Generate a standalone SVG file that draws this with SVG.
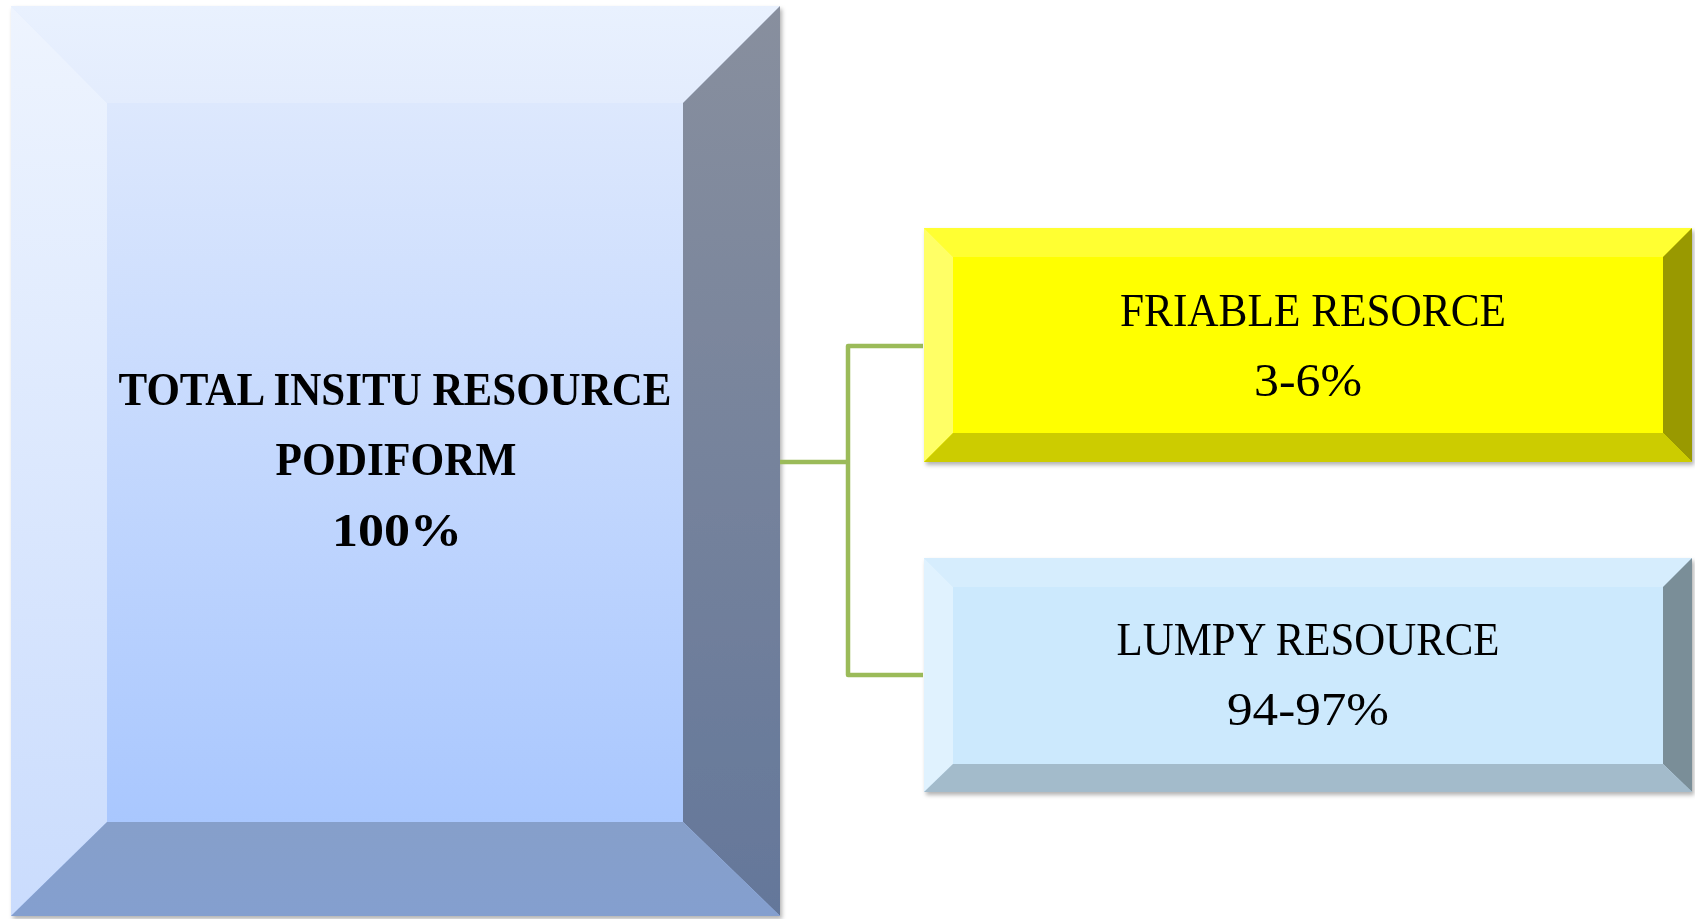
<svg xmlns="http://www.w3.org/2000/svg" width="1695" height="919" viewBox="0 0 1695 919">
<defs>
<filter id="sh" x="-5%" y="-5%" width="110%" height="110%">
<feDropShadow dx="2" dy="3" stdDeviation="2" flood-color="#000" flood-opacity="0.3"/>
</filter>
<linearGradient id="gIn" x1="0" y1="0" x2="0" y2="1"><stop offset="0" stop-color="#dde8fd"/><stop offset="1" stop-color="#a9c7fe"/></linearGradient>
<linearGradient id="gTop" x1="0" y1="0" x2="0" y2="1"><stop offset="0" stop-color="#e9f1fe"/><stop offset="1" stop-color="#e3ecfd"/></linearGradient>
<linearGradient id="gLeft" x1="0" y1="0" x2="0" y2="1"><stop offset="0" stop-color="#eef4fe"/><stop offset="1" stop-color="#cadcfd"/></linearGradient>
<linearGradient id="gRight" x1="0" y1="0" x2="0" y2="1"><stop offset="0" stop-color="#888f9e"/><stop offset="1" stop-color="#64779a"/></linearGradient>
<linearGradient id="gBot" x1="0" y1="0" x2="0" y2="1"><stop offset="0" stop-color="#869fca"/><stop offset="1" stop-color="#849fcf"/></linearGradient>
<style>
.bold{font-family:"Liberation Serif","Times New Roman",serif;font-weight:bold;font-size:47px;fill:#000;text-anchor:middle}
.reg{font-family:"Liberation Serif","Times New Roman",serif;font-size:46px;fill:#000;text-anchor:middle}
.conn{fill:none;stroke:#9bbb59;stroke-width:4.5;stroke-linejoin:round}
</style>
</defs>
<rect width="1695" height="919" fill="#fff"/>

<g id="total" filter="url(#sh)">
<rect x="11" y="6" width="769" height="910" fill="url(#gIn)"/>
<polygon points="11,6 780,6 683,103 107,103" fill="url(#gTop)"/>
<polygon points="11,6 107,103 107,822 11,916" fill="url(#gLeft)"/>
<polygon points="780,6 780,916 683,822 683,103" fill="url(#gRight)"/>
<polygon points="11,916 107,822 683,822 780,916" fill="url(#gBot)"/>
<rect x="107" y="103" width="576" height="719" fill="url(#gIn)"/>
<text class="bold" x="395" y="405" textLength="553" lengthAdjust="spacingAndGlyphs">TOTAL INSITU RESOURCE</text>
<text class="bold" x="396" y="475" textLength="241" lengthAdjust="spacingAndGlyphs">PODIFORM</text>
<text class="bold" x="397" y="546" textLength="130" lengthAdjust="spacingAndGlyphs">100%</text>
</g>

<g id="connectors">
<polyline class="conn" points="780,462 848,462"/>
<polyline class="conn" points="923,346 848,346 848,675 923,675"/>
</g>

<g id="friable" filter="url(#sh)">
<rect x="924" y="228" width="768" height="234" fill="#ffff00"/>
<polygon points="924,228 1692,228 1663,257 953,257" fill="#ffff33"/>
<polygon points="924,228 953,257 953,433 924,462" fill="#ffff66"/>
<polygon points="1692,228 1692,462 1663,433 1663,257" fill="#999900"/>
<polygon points="924,462 953,433 1663,433 1692,462" fill="#cccc00"/>
<text class="reg" x="1313" y="326" textLength="386" lengthAdjust="spacingAndGlyphs">FRIABLE RESORCE</text>
<text class="reg" x="1308" y="396" textLength="108" lengthAdjust="spacingAndGlyphs">3-6%</text>
</g>

<g id="lumpy" filter="url(#sh)">
<rect x="924" y="558" width="768" height="234" fill="#cce9fd"/>
<polygon points="924,558 1692,558 1663,587 953,587" fill="#d6edfd"/>
<polygon points="924,558 953,587 953,764 924,792" fill="#e0f2fe"/>
<polygon points="1692,558 1692,792 1663,764 1663,587" fill="#7a8e98"/>
<polygon points="924,792 953,764 1663,764 1692,792" fill="#a3bbcb"/>
<text class="reg" x="1308" y="655" textLength="383" lengthAdjust="spacingAndGlyphs">LUMPY RESOURCE</text>
<text class="reg" x="1308" y="725" textLength="162" lengthAdjust="spacingAndGlyphs">94-97%</text>
</g>
</svg>
